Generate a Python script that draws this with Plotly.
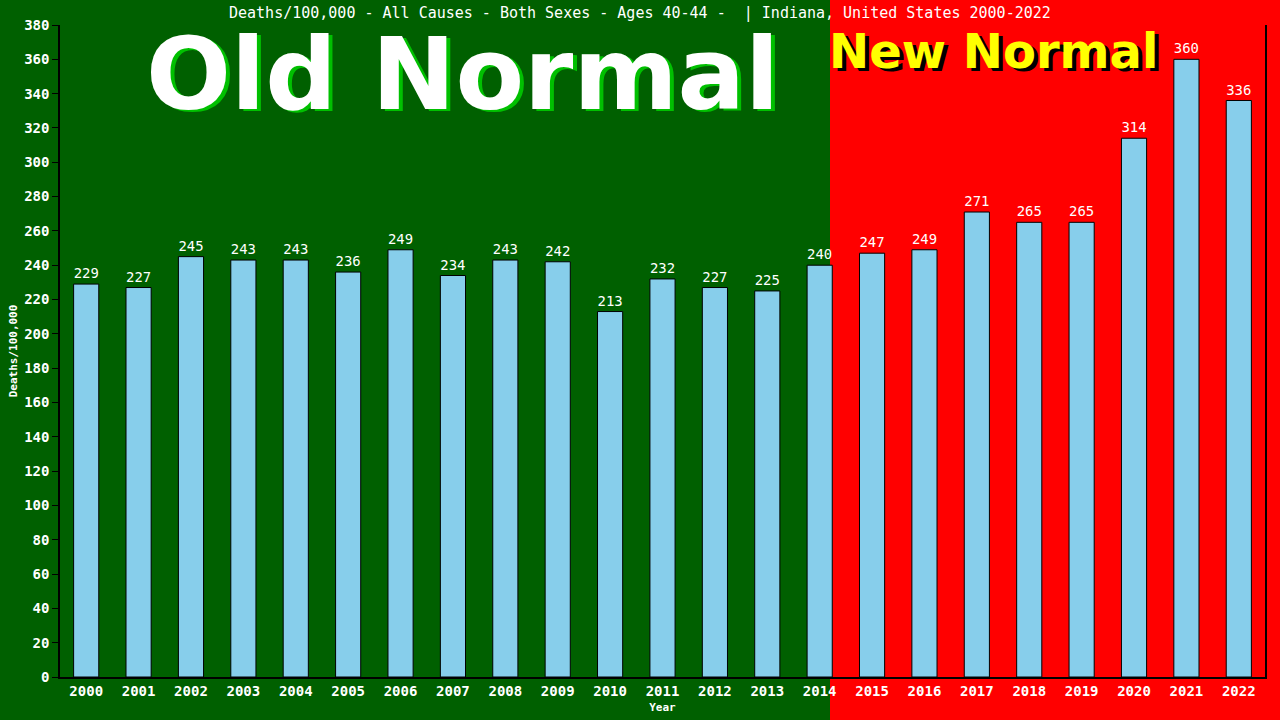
import plotly.graph_objects as go

# values
years = [str(y) for y in range(2000, 2023)]
deaths = [229, 227, 245, 243, 243, 236, 249, 234, 243, 242, 213, 232,
          227, 225, 240, 247, 249, 271, 265, 265, 314, 360, 336]
title_text = "Deaths/100,000 - All Causes - Both Sexes - Ages 40-44 -  | Indiana, United States 2000-2022"
y_ticks = list(range(0, 381, 20))

W, H = 1280, 720
L, R, T, B = 60, 15, 25, 43
pw, ph = W - L - R, H - T - B


def px(x):
    return (x - L) / pw


def py(y):
    return (H - B - y) / ph


mono = "DejaVu Sans Mono"

fig = go.Figure()
fig.add_trace(go.Bar(
    x=years, y=deaths,
    marker=dict(color="#87CEEB", line=dict(color="black", width=1)),
    text=[str(v) for v in deaths], textposition="outside",
    textfont=dict(color="white", family=mono, size=14),
    cliponaxis=False,
))

shapes = [
    dict(type="rect", xref="paper", yref="paper", layer="below",
         x0=px(830), x1=px(W + 5), y0=py(H + 5), y1=py(-5),
         fillcolor="#FF0000", line=dict(width=0)),
]


def label(text, x, y, size, color, family="DejaVu Sans"):
    return dict(text=text, x=px(x), y=py(y), xref="paper", yref="paper",
                xanchor="center", yanchor="middle", showarrow=False,
                font=dict(family=family, size=size, color=color))


annotations = [
    label(title_text, 640, 13, 15, "white", mono),
    # Old Normal with green shadow
    label("<b>Old Normal</b>", 466, 77, 100, "#00C000"),
    label("<b>Old Normal</b>", 462, 74, 100, "white"),
    # New Normal with black shadow
    label("<b>New Normal</b>", 997, 54, 48, "black"),
    label("<b>New Normal</b>", 993, 51, 48, "#FFFF00"),
]

fig.update_layout(
    width=W, height=H,
    margin=dict(l=L, r=R, t=T, b=B),
    paper_bgcolor="#006000", plot_bgcolor="rgba(0,0,0,0)",
    bargap=0.52, showlegend=False,
    shapes=shapes, annotations=annotations,
    font=dict(family=mono, color="white"),
)
fig.update_xaxes(
    automargin=False,
    showline=True, linecolor="black", linewidth=1.5, showgrid=False,
    ticks="", tickfont=dict(family=mono, size=14, color="white", weight="bold"),
    title=dict(text="<b>Year</b>", font=dict(family=mono, size=11, color="white"), standoff=6),
)
fig.update_yaxes(
    automargin=False,
    range=[0, 380], tickvals=y_ticks, showgrid=False, zeroline=False,
    showline=True, linecolor="black", linewidth=1.5, mirror=True,
    ticks="outside", ticklen=6, tickcolor="black",
    tickfont=dict(family=mono, size=14, color="white", weight="bold"),
    title=dict(text="<b>Deaths/100,000</b>", font=dict(family=mono, size=11, color="white"), standoff=4),
)

fig.write_html("out.html", config={"displayModeBar": False},
               post_script="document.body.style.margin='0';")
